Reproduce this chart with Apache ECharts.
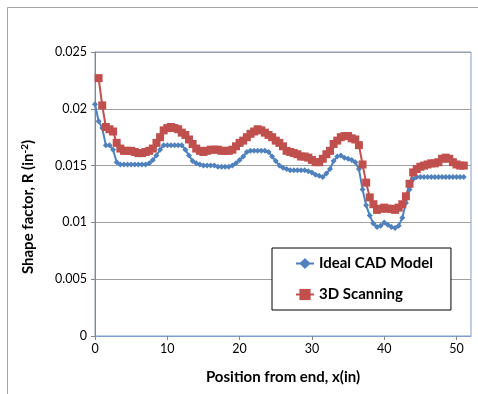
<!DOCTYPE html>
<html>
<head>
<meta charset="utf-8">
<script src="https://cdn.jsdelivr.net/npm/echarts@6/dist/echarts.min.js"></script>
<style>html,body{margin:0;padding:0;background:#fff;}#c{width:478px;height:394px;}</style>
</head>
<body>
<div id="c"></div>
<script>
var xBlue = [0,0.5,1,1.5,2,2.5,3,3.5,4,4.5,5,5.5,6,6.5,7,7.5,8,8.5,9,9.5,10,10.5,11,11.5,12,12.5,13,13.5,14,14.5,15,15.5,16,16.5,17,17.5,18,18.5,19,19.5,20,20.5,21,21.5,22,22.5,23,23.5,24,24.5,25,25.5,26,26.5,27,27.5,28,28.5,29,29.5,30,30.5,31,31.5,32,32.5,33,33.5,34,34.5,35,35.5,36,36.5,37,37.5,38,38.5,39,39.5,40,40.5,41,41.5,42,42.5,43,43.5,44,44.5,45,45.5,46,46.5,47,47.5,48,48.5,49,49.5,50,50.5,51];
var idealCAD = [0.0204,0.0189,0.0183,0.0168,0.0168,0.0164,0.0153,0.0151,0.0151,0.0151,0.0151,0.0151,0.0151,0.0151,0.0151,0.0152,0.0155,0.0159,0.0164,0.0168,0.0168,0.0168,0.0168,0.0168,0.0168,0.0164,0.0159,0.0154,0.0152,0.0151,0.0150,0.0150,0.0150,0.0150,0.0149,0.0149,0.0149,0.0149,0.0150,0.0152,0.0155,0.0158,0.0162,0.0163,0.0163,0.0163,0.0163,0.0163,0.0162,0.0158,0.0154,0.0150,0.0148,0.0147,0.0146,0.0146,0.0146,0.0146,0.0146,0.0145,0.0144,0.0142,0.0141,0.0140,0.0143,0.0147,0.0154,0.0158,0.0159,0.0157,0.0156,0.0155,0.0153,0.0147,0.0129,0.0115,0.0106,0.0099,0.0096,0.0097,0.0100,0.0098,0.0096,0.0095,0.0097,0.0104,0.0117,0.0129,0.0138,0.0140,0.0140,0.0140,0.0140,0.0140,0.0140,0.0140,0.0140,0.0140,0.0140,0.0140,0.0140,0.0140,0.0140];
var xRed = [0.5,1,1.5,2,2.5,3,3.5,4,4.5,5,5.5,6,6.5,7,7.5,8,8.5,9,9.5,10,10.5,11,11.5,12,12.5,13,13.5,14,14.5,15,15.5,16,16.5,17,17.5,18,18.5,19,19.5,20,20.5,21,21.5,22,22.5,23,23.5,24,24.5,25,25.5,26,26.5,27,27.5,28,28.5,29,29.5,30,30.5,31,31.5,32,32.5,33,33.5,34,34.5,35,35.5,36,36.5,37,37.5,38,38.5,39,39.5,40,40.5,41,41.5,42,42.5,43,43.5,44,44.5,45,45.5,46,46.5,47,47.5,48,48.5,49,49.5,50,50.5,51];
var scanning3D = [0.0227,0.0203,0.0184,0.0182,0.0180,0.0170,0.0165,0.0163,0.0163,0.0163,0.0162,0.0161,0.0161,0.0162,0.0163,0.0165,0.0170,0.0175,0.0181,0.0183,0.0184,0.0183,0.0182,0.0179,0.0177,0.0173,0.0169,0.0165,0.0163,0.0162,0.0163,0.0164,0.0164,0.0164,0.0163,0.0163,0.0163,0.0164,0.0167,0.0170,0.0172,0.0175,0.0178,0.0180,0.0182,0.0181,0.0179,0.0177,0.0175,0.0172,0.0170,0.0167,0.0163,0.0162,0.0161,0.0160,0.0158,0.0158,0.0157,0.0155,0.0153,0.0153,0.0156,0.0160,0.0163,0.0169,0.0172,0.0175,0.0176,0.0176,0.0174,0.0173,0.0168,0.0151,0.0135,0.0122,0.0116,0.0111,0.0112,0.0113,0.0112,0.0112,0.0111,0.0113,0.0116,0.0123,0.0134,0.0144,0.0147,0.0149,0.0150,0.0151,0.0152,0.0152,0.0153,0.0156,0.0157,0.0156,0.0153,0.0151,0.0150,0.0150];
var xTicks = [0,10,20,30,40,50];
var yTicks = [0,0.005,0.01,0.015,0.02,0.025];

function pairs(xs, ys){ var o=[]; for(var i=0;i<xs.length;i++){o.push([xs[i], ys[i]]);} return o; }

var FONT = 'Lato';
var chart = echarts.init(document.getElementById('c'), null, {renderer:'canvas'});
chart.setOption({
  animation:false,
  backgroundColor:'#fff',
  textStyle:{fontFamily:FONT},
  graphic:[{type:'rect', shape:{x:7.5,y:7.5,width:500,height:500}, style:{fill:null, stroke:'#a6a6a6', lineWidth:1}, silent:true}],
  grid:{left:95, top:52, right:7, bottom:58, show:true, borderColor:'#7d9fcf', borderWidth:1},
  xAxis:{type:'value', min:0, max:52, interval:10,
    name:'Position from end, x(in)', nameLocation:'middle', nameGap:34,
    nameTextStyle:{fontFamily:FONT, fontWeight:'bold', fontSize:15, color:'#000'},
    axisLine:{show:true, onZero:false, lineStyle:{color:'#7d9fcf'}},
    axisTick:{show:true, length:4, lineStyle:{color:'#868686'}},
    axisLabel:{color:'#000', fontSize:12.5, margin:6, showMaxLabel:false, fontFamily:FONT},
    splitLine:{show:false}},
  yAxis:{type:'value', min:0, max:0.025, interval:0.005,
    name:'{a|Shape factor, R (in}{s|-2}{a|)}', nameLocation:'middle', nameGap:58, nameRotate:90,
    nameTextStyle:{fontFamily:FONT, fontWeight:'bold', fontSize:15, color:'#000', padding:[0,26,0,0],
      rich:{a:{fontFamily:FONT, fontWeight:'bold', fontSize:15, color:'#000'},
            s:{fontFamily:FONT, fontWeight:'bold', fontSize:10, color:'#000', verticalAlign:'top', padding:[0,0,7,0]}}},
    axisLine:{show:true, lineStyle:{color:'#868686'}},
    axisTick:{show:true, length:4, lineStyle:{color:'#868686'}},
    axisLabel:{color:'#000', fontSize:12.5, margin:8, fontFamily:FONT},
    splitLine:{show:true, lineStyle:{color:'#a0a0a0', width:1}}},
  legend:{orient:'vertical', left:272, top:248, padding:[8,18,8,23], itemGap:16,
    itemWidth:18, itemHeight:14, backgroundColor:'#fff', borderColor:'#000', borderWidth:1,
    textStyle:{fontFamily:FONT, fontWeight:'bold', fontSize:15, color:'#000'},
    data:['Ideal CAD Model','3D Scanning']},
  series:[
    {name:'Ideal CAD Model', type:'line', data:pairs(xBlue, idealCAD), symbol:'diamond', symbolSize:6,
      itemStyle:{color:'#4f81bd'}, lineStyle:{color:'#4f81bd', width:2}},
    {name:'3D Scanning', type:'line', data:pairs(xRed, scanning3D), symbol:'rect', symbolSize:8,
      itemStyle:{color:'#c0504d'}, lineStyle:{color:'#c0504d', width:2}}
  ]
});
</script>
</body>
</html>
